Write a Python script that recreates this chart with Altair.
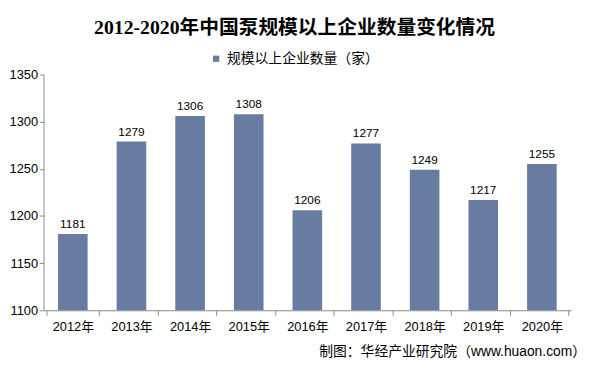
import altair as alt
import pandas as pd

years = ["2012年", "2013年", "2014年", "2015年", "2016年", "2017年", "2018年", "2019年", "2020年"]
counts = [1181, 1279, 1306, 1308, 1206, 1277, 1249, 1217, 1255]
series_name = "规模以上企业数量（家）"
title_text = "2012-2020年中国泵规模以上企业数量变化情况"
source_text = ["制图：华经产业研究院（www.huaon.com）"]

df = pd.DataFrame({"year": years, "count": counts, "series": [series_name] * len(years)})
src = pd.DataFrame({"t": source_text})

font = "Liberation Sans, Noto Sans CJK SC"
base = alt.Chart(df)

bars = base.mark_bar(color="#687ba0", size=30, clip=True).encode(
    x=alt.X("year:N", sort=years, title=None,
            axis=alt.Axis(labelAngle=0, labelFontSize=13, labelColor="#000", tickBand="extent",
                          domainColor="#888", tickColor="#888", tickSize=5, labelPadding=6,
                          labelFont=font)),
    y=alt.Y("count:Q", title=None, scale=alt.Scale(domain=[1100, 1350], zero=False, nice=False),
            axis=alt.Axis(values=[1100, 1150, 1200, 1250, 1300, 1350], grid=False, format="d",
                          labelFontSize=13, labelColor="#000", domainColor="#888", tickColor="#888",
                          tickSize=4, labelPadding=2, labelFont=font)),
    fill=alt.Fill("series:N", scale=alt.Scale(range=["#687ba0"]),
                  legend=alt.Legend(title=None, orient="none", legendX=168, legendY=-23,
                                    labelFontSize=14, labelFont=font, labelColor="#000",
                                    symbolType="square", symbolSize=40, symbolStrokeWidth=0)),
)

labels = base.mark_text(dy=-10, fontSize=12, font=font, color="#000").encode(
    x=alt.X("year:N", sort=years),
    y=alt.Y("count:Q"),
    text=alt.Text("count:Q"),
)

source = alt.Chart(src).mark_text(align="right", baseline="middle", fontSize=14, font=font, color="#000").encode(
    x=alt.value(550), y=alt.value(281), text="t:N"
)

chart = alt.layer(bars, labels, source).properties(
    width=535, height=239,
    title=alt.TitleParams(title_text, fontSize=20, font="Liberation Serif, Noto Sans CJK SC", fontWeight="bold",
                          anchor="middle", dx=-13, offset=14, color="#000"),
    autosize=alt.AutoSizeParams(type="none"),
    padding={"left": 36, "top": 65, "right": 15, "bottom": 52},
    background="white",
).configure_view(stroke=None)

chart.save("out.html", embed_options={"renderer": "svg", "actions": False})
